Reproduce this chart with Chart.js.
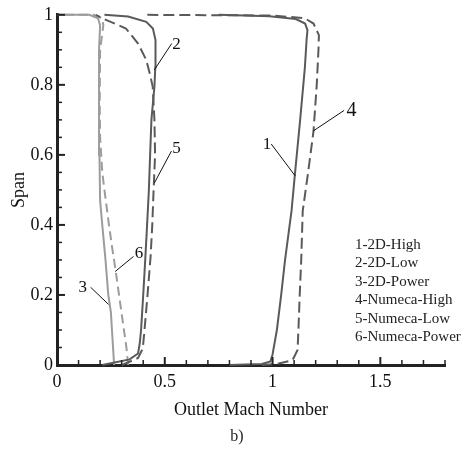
<!DOCTYPE html>
<html>
<head>
<meta charset="utf-8">
<script src="https://cdn.jsdelivr.net/npm/chart.js@4.4.0/dist/chart.umd.min.js"></script>
<style>
  html, body { margin: 0; padding: 0; background: #fff; }
  #wrap { width: 464px; height: 450px; }
</style>
</head>
<body>
<div id="wrap"><canvas id="machChart" width="464" height="450"></canvas></div>
<script>
// outlet Mach number vs span
var mach1 = [0.80, 0.95, 0.99, 1.0, 1.02, 1.04, 1.058, 1.088, 1.103, 1.128, 1.15, 1.158, 1.162, 1.151, 1.108, 0.985, 0.75];
var span1 = [0, 0.003, 0.01, 0.03, 0.1, 0.2, 0.3, 0.44, 0.54, 0.7, 0.85, 0.93, 0.956, 0.975, 0.988, 0.996, 1];

var mach2 = [0.21, 0.25, 0.337, 0.376, 0.384, 0.39, 0.40, 0.41, 0.418, 0.426, 0.432, 0.438, 0.452, 0.456, 0.457, 0.445, 0.414, 0.33, 0.22];
var span2 = [0, 0.005, 0.016, 0.033, 0.062, 0.1, 0.2, 0.308, 0.4, 0.497, 0.6, 0.7, 0.795, 0.85, 0.928, 0.961, 0.98, 0.995, 1];

var mach3 = [0.265, 0.26, 0.255, 0.25, 0.244, 0.238, 0.225, 0.21, 0.2, 0.197, 0.195, 0.195, 0.2, 0.19, 0.15, 0];
var span3 = [0, 0.05, 0.1, 0.15, 0.176, 0.2, 0.3, 0.4, 0.47, 0.6, 0.8, 0.9, 0.97, 0.99, 1, 1];

var mach4 = [0.95, 1.022, 1.093, 1.116, 1.12, 1.126, 1.133, 1.14, 1.165, 1.19, 1.205, 1.213, 1.215, 1.19, 1.15, 1.0, 0.4];
var span4 = [0, 0.003, 0.014, 0.043, 0.1, 0.2, 0.3, 0.44, 0.55, 0.668, 0.8, 0.9, 0.942, 0.975, 0.99, 0.998, 1];

var mach5 = [0.30, 0.32, 0.376, 0.398, 0.406, 0.42, 0.434, 0.442, 0.448, 0.45, 0.455, 0.452, 0.444, 0.43, 0.414, 0.376, 0.32, 0.21, 0.18];
var span5 = [0, 0.005, 0.02, 0.047, 0.1, 0.2, 0.308, 0.4, 0.497, 0.526, 0.6, 0.7, 0.795, 0.833, 0.871, 0.918, 0.961, 0.99, 1];

var mach6 = [0.33, 0.327, 0.322, 0.306, 0.29, 0.272, 0.257, 0.241, 0.22, 0.21, 0.2, 0.198, 0.2, 0.215, 0.21, 0.17, 0];
var span6 = [0, 0.02, 0.05, 0.12, 0.19, 0.27, 0.33, 0.4, 0.5, 0.55, 0.65, 0.75, 0.9, 0.97, 0.99, 1, 1];

var seriesNames = ['1-2D-High', '2-2D-Low', '3-2D-Power', '4-Numeca-High', '5-Numeca-Low', '6-Numeca-Power'];

// numbered callouts: text spot and leader line, in data units
var calloutText = ['1', '2', '3', '4', '5', '6'];
var calloutMach = [0.974, 0.554, 0.12, 1.366, 0.554, 0.38];
var calloutSpan = [0.63, 0.915, 0.221, 0.726, 0.619, 0.317];
var leaderFromMach = [0.994, 0.532, 0.156, 1.332, 0.531, 0.355];
var leaderFromSpan = [0.631, 0.918, 0.222, 0.727, 0.611, 0.31];
var leaderToMach = [1.105, 0.452, 0.239, 1.188, 0.452, 0.27];
var leaderToSpan = [0.54, 0.843, 0.173, 0.668, 0.52, 0.267];

function pts(xs, ys) {
  return xs.map(function(v, i) { return { x: v, y: ys[i] }; });
}

var DARK = '#5a5a5a';
var LIGHT = '#9c9c9c';
var SERIF = '"Liberation Serif", "Times New Roman", serif';

function curve(label, xs, ys, color, dash) {
  return {
    label: label,
    data: pts(xs, ys),
    showLine: true,
    borderColor: color,
    borderWidth: 2,
    borderDash: dash,
    pointRadius: 0,
    tension: 0,
    fill: false,
    clip: 4
  };
}

// tick labels like the figure: 0, 0.2 ... 1 (no trailing zeros)
function plainNum(v) {
  return String(Number(v.toFixed(2)));
}

var figureDecor = {
  id: 'figureDecor',
  afterDatasetsDraw: function(chart) {
    var ctx = chart.ctx;
    var xs = chart.scales.x, ys = chart.scales.y;
    var area = chart.chartArea;
    ctx.save();

    // inward tick marks
    ctx.strokeStyle = '#222';
    for (var i = 0; i <= 18; i++) {
      var px = xs.getPixelForValue(i / 10);
      var big = i % 5 === 0;
      ctx.lineWidth = big ? 2 : 1.5;
      ctx.beginPath();
      ctx.moveTo(px, area.bottom);
      ctx.lineTo(px, area.bottom - (big ? 8 : 5));
      ctx.stroke();
    }
    for (var j = 0; j <= 20; j++) {
      var py = ys.getPixelForValue(j / 20);
      var bigY = j % 4 === 0;
      ctx.lineWidth = bigY ? 2 : 1.5;
      ctx.beginPath();
      ctx.moveTo(area.left, py);
      ctx.lineTo(area.left + (bigY ? 8 : 5), py);
      ctx.stroke();
    }

    // callouts
    ctx.strokeStyle = '#111';
    ctx.lineWidth = 1;
    ctx.fillStyle = '#111';
    ctx.textAlign = 'center';
    ctx.textBaseline = 'middle';
    calloutText.forEach(function(t, k) {
      ctx.beginPath();
      ctx.moveTo(xs.getPixelForValue(leaderFromMach[k]), ys.getPixelForValue(leaderFromSpan[k]));
      ctx.lineTo(xs.getPixelForValue(leaderToMach[k]), ys.getPixelForValue(leaderToSpan[k]));
      ctx.stroke();
      ctx.font = (t === '4' ? 20 : 17) + 'px ' + SERIF;
      ctx.fillText(t, xs.getPixelForValue(calloutMach[k]), ys.getPixelForValue(calloutSpan[k]));
    });

    // text legend
    ctx.font = '15px ' + SERIF;
    ctx.textAlign = 'left';
    ctx.fillStyle = '#222';
    seriesNames.forEach(function(name, k) {
      ctx.fillText(name, 355, 245 + k * 18.4);
    });

    // caption
    ctx.font = '16px ' + SERIF;
    ctx.textAlign = 'center';
    ctx.fillText('b)', 237, 437);

    ctx.restore();
  }
};

new Chart(document.getElementById('machChart'), {
  type: 'scatter',
  data: {
    datasets: [
      curve(seriesNames[0], mach1, span1, DARK, []),
      curve(seriesNames[1], mach2, span2, DARK, []),
      curve(seriesNames[2], mach3, span3, LIGHT, []),
      curve(seriesNames[3], mach4, span4, DARK, [11, 5]),
      curve(seriesNames[4], mach5, span5, DARK, [11, 5]),
      curve(seriesNames[5], mach6, span6, LIGHT, [9, 5])
    ]
  },
  options: {
    responsive: false,
    animation: false,
    layout: { padding: { top: 13, right: 19, bottom: 0, left: 0 } },
    plugins: {
      legend: { display: false },
      tooltip: { enabled: false }
    },
    scales: {
      x: {
        type: 'linear',
        min: 0,
        max: 1.8,
        afterFit: function(s) { s.height = 85; },
        grid: { display: false, drawTicks: false },
        border: { display: true, color: '#222', width: 3 },
        ticks: {
          stepSize: 0.5,
          includeBounds: false,
          padding: 6,
          color: '#111',
          font: { family: SERIF, size: 18 },
          callback: plainNum
        },
        title: {
          display: true,
          text: 'Outlet Mach Number',
          color: '#111',
          font: { family: SERIF, size: 18 },
          padding: { top: 0, bottom: 29 }
        }
      },
      y: {
        type: 'linear',
        min: 0,
        max: 1,
        afterFit: function(s) { s.width = 57; },
        grid: { display: false, drawTicks: false },
        border: { display: true, color: '#222', width: 3 },
        ticks: {
          stepSize: 0.2,
          padding: 4,
          color: '#111',
          font: { family: SERIF, size: 18 },
          callback: plainNum
        },
        title: {
          display: true,
          text: 'Span',
          color: '#111',
          font: { family: SERIF, size: 18 },
          padding: { top: 8, bottom: 0 }
        }
      }
    }
  },
  plugins: [figureDecor]
});
</script>
</body>
</html>
